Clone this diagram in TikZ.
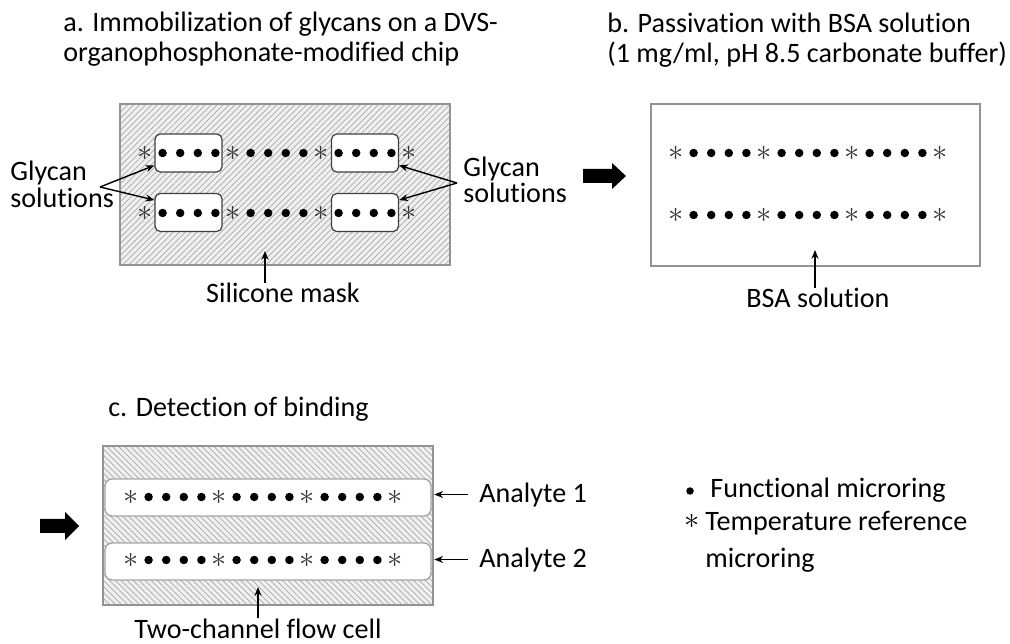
\documentclass[tikz,border=0pt]{standalone}
\usepackage{fontspec}
\setmainfont{Carlito}[Ligatures=NoCommon]
\usetikzlibrary{arrows.meta,patterns.meta}

\begin{document}
\begin{tikzpicture}[x=0.02cm, y=-0.02cm,
    lbl/.style={inner sep=0pt, font=\fontsize{16}{17.6}\selectfont},
    chip/.style={draw=gray!85, line width=1.1pt, inner sep=0pt},
    hatchA/.style={preaction={fill=gray!12}, pattern={Lines[angle=45,distance=2.4pt,line width=0.5pt]}, pattern color=gray!60},
    hatchC/.style={preaction={fill=gray!12}, pattern={Lines[angle=-45,distance=2.4pt,line width=0.5pt]}, pattern color=gray!60},
    well/.style={draw=black!75, fill=white, rounded corners=3pt, line width=0.7pt, inner sep=0pt, minimum width=1.34cm, minimum height=0.76cm},
    channel/.style={draw=gray!70, fill=white, rounded corners=4pt, line width=0.8pt, inner sep=0pt, minimum width=6.52cm, minimum height=0.74cm},
    funcring/.style={circle, fill=black, inner sep=0pt, minimum size=0.17cm},
    refring/.style={inner sep=0pt, text=gray!40!black, font=\fontsize{16}{16}\selectfont},
    pointer/.style={-{Stealth[length=5pt,width=4pt]}, line width=0.8pt}
  ]
    \useasboundingbox (0,0) rectangle (1010,644);

    % a. immobilization
    \node[lbl, anchor=base west, align=left] (titleA) at (63,62) {a. Immobilization of glycans on a DVS-\\organophosphonate-modified chip};
    \node[chip, hatchA, minimum width=6.6cm, minimum height=3.22cm] (maskA) at (285,184.5) {};
    \node[well] (wA1) at (188.5,153) {};
    \node[well] (wA2) at (188.5,212.5) {};
    \node[well] (wB1) at (365,153) {};
    \node[well] (wB2) at (365,212.5) {};
    \node[lbl, anchor=base west, align=left, font=\fontsize{16}{15.9}\selectfont] (glyL) at (10,208) {Glycan\\solutions};
    \node[lbl, anchor=base west, align=left, font=\fontsize{16}{14.8}\selectfont] (glyR) at (463,203) {Glycan\\solutions};
    \coordinate (glyLtip) at (100,187);
    \coordinate (glyRtip) at (457,183);
    \draw[pointer] (glyLtip) -- (wA1.200);
    \draw[pointer] (glyLtip) -- (wA2.160);
    \draw[pointer] (glyRtip) -- (wB1.340);
    \draw[pointer] (glyRtip) -- (wB2.20);
    \node[lbl, anchor=base] (silA) at (283,303) {Silicone mask};
    \coordinate (silAtip) at (265,251);
    \draw[pointer] (silA.north -| silAtip) -- (silAtip);

    % b. passivation
    \fill (583,169) -- (612,169) -- (612,163) -- (626,176) -- (612,189) -- (612,183) -- (583,183) -- cycle;
    \node[lbl, anchor=base west, align=left] (titleB) at (607,63) {b. Passivation with BSA solution\\(1 mg/ml, pH 8.5 carbonate buffer)};
    \node[chip, fill=white, minimum width=6.58cm, minimum height=3.24cm] (chipB) at (815.5,185) {};
    \node[lbl, anchor=base] (bsaB) at (818,308) {BSA solution};
    \coordinate (bsaBtip) at (815,250);
    \draw[pointer] (bsaB.north -| bsaBtip) -- (bsaBtip);

    % c. detection
    \fill (40,519) -- (65,519) -- (65,512) -- (79,526) -- (65,540) -- (65,533) -- (40,533) -- cycle;
    \node[lbl, anchor=base west] (titleC) at (108,417) {c. Detection of binding};
    \node[chip, hatchC, minimum width=6.6cm, minimum height=3.18cm] (cellC) at (268,525.5) {};
    \node[channel] (chC1) at (268,497.5) {};
    \node[channel] (chC2) at (268,561.5) {};
    \node[lbl, anchor=base west] (anC1) at (479,502) {Analyte 1};
    \node[lbl, anchor=base west] (anC2) at (479,567) {Analyte 2};
    \draw[pointer, shorten <=6pt, shorten >=1.5pt] (anC1.west) -- (anC1.west -| chC1.east);
    \draw[pointer, shorten <=6pt, shorten >=1.5pt] (anC2.west) -- (anC2.west -| chC2.east);
    \node[lbl, anchor=base] (flowC) at (258,638) {Two-channel flow cell};
    \coordinate (flowCtip) at (258,587);
    \draw[pointer] (flowC.north -| flowCtip) -- (flowCtip);

    % microrings
    \foreach \r/\x/\y in {a1/145/153, a2/145/213, b1/676/153, b2/676/215, c1/131/497, c2/131/560} {
      \foreach \i in {0,...,15} {
        \pgfmathtruncatemacro\m{mod(\i,5)}
        \ifnum\m=0
          \node[refring] (\r-\i) at ({\x+\i*17.6},\y) {$\ast$};
        \else
          \node[funcring] (\r-\i) at ({\x+\i*17.6},\y) {};
        \fi
      }
    }

    % legend
    \node[funcring, minimum size=0.15cm] (legF) at (690,491) {};
    \node[lbl, anchor=base west] (legFtext) at (710,498) {Functional microring};
    \node[refring, text=black] (legT) at (692,521) {$\ast$};
    \node[lbl, anchor=base west, align=left, font=\fontsize{16}{21}\selectfont] (legTtext) at (705,567) {Temperature reference\\microring};
\end{tikzpicture}
\end{document}
